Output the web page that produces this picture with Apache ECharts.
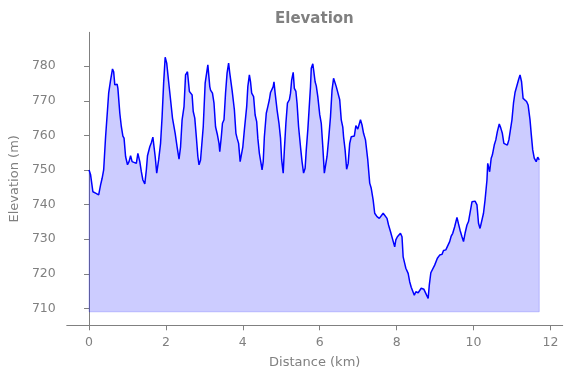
<!DOCTYPE html>
<html>
<head>
<meta charset="utf-8">
<script src="https://cdn.jsdelivr.net/npm/echarts@6/dist/echarts.min.js"></script>
<style>
html, body { margin: 0; padding: 0; background: #fff; }
#chart { width: 571px; height: 378px; }
</style>
</head>
<body>
<div id="chart"></div>
<script>
// distance along the route (km) and elevation (m)
var distKm = [0.00, 0.04, 0.10, 0.17, 0.22, 0.25, 0.30, 0.34, 0.38, 0.43, 0.48, 0.51, 0.56, 0.61, 0.64, 0.67, 0.73, 0.75, 0.80, 0.84,
    0.88, 0.91, 0.95, 1.00, 1.04, 1.08, 1.12, 1.17, 1.23, 1.27, 1.32, 1.36, 1.40, 1.45, 1.49, 1.52, 1.55, 1.58, 1.62, 1.66,
    1.69, 1.72, 1.76, 1.81, 1.86, 1.90, 1.94, 1.98, 2.02, 2.04, 2.07, 2.12, 2.17, 2.20, 2.24, 2.29, 2.34, 2.38, 2.42, 2.47,
    2.51, 2.56, 2.58, 2.61, 2.64, 2.68, 2.71, 2.75, 2.79, 2.83, 2.86, 2.90, 2.97, 3.02, 3.09, 3.14, 3.16, 3.21, 3.25, 3.29,
    3.34, 3.38, 3.40, 3.44, 3.47, 3.51, 3.55, 3.59, 3.63, 3.66, 3.69, 3.72, 3.75, 3.78, 3.82, 3.85, 3.89, 3.93, 3.96, 4.00,
    4.04, 4.10, 4.13, 4.17, 4.20, 4.23, 4.28, 4.32, 4.36, 4.39, 4.43, 4.48, 4.50, 4.53, 4.56, 4.61, 4.65, 4.69, 4.72, 4.75,
    4.79, 4.81, 4.84, 4.89, 4.94, 4.98, 5.01, 5.05, 5.08, 5.12, 5.16, 5.21, 5.24, 5.27, 5.31, 5.34, 5.38, 5.41, 5.45, 5.50,
    5.54, 5.58, 5.62, 5.65, 5.69, 5.72, 5.76, 5.78, 5.82, 5.84, 5.88, 5.91, 5.95, 6.00, 6.04, 6.08, 6.12, 6.15, 6.19, 6.23,
    6.28, 6.32, 6.36, 6.40, 6.43, 6.47, 6.52, 6.56, 6.60, 6.62, 6.66, 6.70, 6.74, 6.78, 6.82, 6.87, 6.90, 6.94, 6.99, 7.02,
    7.06, 7.10, 7.14, 7.19, 7.21, 7.25, 7.30, 7.34, 7.39, 7.43, 7.49, 7.55, 7.59, 7.65, 7.70, 7.75, 7.79, 7.84, 7.90, 7.95,
    7.98, 8.02, 8.07, 8.10, 8.14, 8.17, 8.21, 8.24, 8.30, 8.34, 8.38, 8.42, 8.46, 8.50, 8.56, 8.59, 8.64, 8.68, 8.71, 8.76,
    8.82, 8.85, 8.89, 8.94, 8.99, 9.06, 9.12, 9.18, 9.22, 9.28, 9.32, 9.38, 9.42, 9.46, 9.51, 9.57, 9.61, 9.65, 9.70, 9.74,
    9.78, 9.83, 9.87, 9.91, 9.96, 10.00, 10.04, 10.09, 10.13, 10.17, 10.22, 10.26, 10.30, 10.35, 10.37, 10.40, 10.42, 10.46, 10.49, 10.54,
    10.58, 10.62, 10.67, 10.71, 10.75, 10.79, 10.83, 10.88, 10.92, 10.95, 11.00, 11.04, 11.08, 11.13, 11.17, 11.21, 11.25, 11.29, 11.34, 11.38,
    11.42, 11.47, 11.50, 11.54, 11.58, 11.63, 11.67, 11.71];
var elevM = [750.0, 748.6, 743.7, 743.3, 743.6, 742.8, 745.7, 747.6, 750.0, 759.6, 767.4, 772.2, 776.0, 779.2, 778.4, 774.6, 774.8, 773.6, 766.4, 762.5,
    759.8, 759.2, 753.9, 751.5, 752.4, 754.1, 752.4, 751.9, 751.9, 754.8, 752.4, 749.5, 747.1, 746.0, 750.0, 754.1, 753.9, 756.7, 757.9, 759.5,
    759.2, 753.9, 749.1, 752.9, 757.7, 765.4, 775.1, 782.6, 780.9, 781.3, 775.5, 770.3, 765.0, 764.5, 760.6, 756.7, 753.1, 756.7, 764.5, 768.3,
    777.5, 778.4, 778.4, 772.7, 773.1, 771.7, 766.9, 765.0, 759.6, 753.9, 751.5, 752.9, 762.5, 775.1, 780.4, 774.1, 773.1, 772.2, 769.3, 762.5,
    760.1, 757.7, 755.3, 759.6, 763.5, 764.5, 772.2, 778.0, 780.9, 778.0, 778.2, 773.1, 772.7, 767.4, 760.6, 759.2, 757.7, 752.4, 752.4, 756.7,
    761.6, 768.3, 774.1, 777.5, 775.5, 772.2, 771.2, 765.9, 764.0, 759.2, 754.8, 751.5, 750.0, 752.4, 759.6, 766.4, 768.3, 770.3, 772.4, 772.7,
    774.1, 775.5, 772.2, 767.4, 763.5, 759.2, 752.9, 749.1, 755.8, 763.5, 769.3, 770.3, 772.2, 776.0, 778.2, 773.6, 772.7, 769.3, 762.5, 756.7,
    752.4, 749.1, 750.5, 755.8, 761.6, 766.9, 774.1, 779.4, 780.7, 779.0, 775.5, 774.3, 771.2, 766.0, 763.5, 756.7, 749.1, 748.6, 753.9, 758.7,
    765.4, 773.1, 776.5, 776.8, 774.1, 774.0, 770.3, 764.5, 762.4, 759.6, 755.8, 750.2, 751.9, 757.7, 759.6, 760.1, 759.8, 762.8, 761.8, 762.2,
    764.5, 763.0, 760.6, 758.7, 758.8, 752.9, 746.2, 744.7, 741.3, 737.5, 736.5, 736.0, 735.8, 737.5, 737.5, 736.0, 734.1, 732.2, 729.8, 727.8,
    729.8, 730.7, 731.2, 731.7, 730.7, 724.9, 723.0, 721.6, 720.1, 717.7, 716.1, 716.0, 713.8, 714.8, 714.5, 714.8, 715.8, 715.3, 715.5, 715.1,
    712.9, 716.7, 720.3, 720.1, 722.5, 724.5, 725.4, 725.6, 726.7, 726.9, 727.2, 729.3, 730.9, 731.7, 733.6, 736.3, 734.4, 732.6, 730.7, 729.3,
    731.7, 734.1, 735.1, 735.0, 740.8, 741.3, 741.0, 739.9, 734.6, 733.1, 732.6, 737.5, 741.3, 747.1, 751.9, 752.4, 749.5, 753.4, 754.3, 757.2,
    758.7, 761.1, 763.3, 762.1, 760.6, 757.7, 758.2, 757.2, 758.7, 758.6, 764.5, 769.3, 772.4, 772.5, 776.0, 777.5, 775.5, 770.7, 770.6, 769.8,
    768.8, 764.5, 760.6, 755.8, 753.4, 752.4, 753.7, 752.9];
var fillBase = 709;
var xTicks = [0, 2, 4, 6, 8, 10, 12];
var yTicks = [710, 720, 730, 740, 750, 760, 770, 780];

var myChart = echarts.init(document.getElementById('chart'));

var profile = [];
distKm.forEach(function (d, i) {
    profile.push([d, elevM[i]]);
});
var last = distKm.length - 1;
// outline of the filled area (left side, bottom, right side)
var fillEdge = [
    [distKm[0], elevM[0]],
    [distKm[0], fillBase],
    [distKm[last], fillBase],
    [distKm[last], elevM[last]]
];

var grey = '#808080';
var font = 'DejaVu Sans';

var option = {
    animation: false,
    title: {
        text: 'Elevation',
        left: 270,
        top: 7,
        textStyle: {
            color: grey,
            fontWeight: 'bold',
            fontSize: 15,
            fontFamily: font
        }
    },
    grid: {
        left: 66.7,
        right: 8.3,
        top: 32.3,
        bottom: 52.7
    },
    xAxis: {
        type: 'value',
        min: -0.58,
        max: 12.32,
        name: 'Distance (km)',
        nameLocation: 'middle',
        nameGap: 31,
        nameTextStyle: { color: grey, fontSize: 13, fontFamily: font },
        splitLine: { show: false },
        axisLine: { lineStyle: { color: grey, width: 1 } },
        axisTick: { length: 5, lineStyle: { color: grey }, customValues: xTicks },
        axisLabel: { color: grey, fontSize: 12.5, fontFamily: font, margin: 11, customValues: xTicks }
    },
    yAxis: {
        type: 'value',
        min: 705.1,
        max: 789.8,
        name: 'Elevation (m)',
        nameLocation: 'middle',
        nameGap: 41,
        nameRotate: 90,
        nameTextStyle: { color: grey, fontSize: 13, fontFamily: font },
        splitLine: { show: false },
        axisLine: { show: true, lineStyle: { color: grey, width: 1 } },
        axisTick: { show: true, length: 5, lineStyle: { color: grey }, customValues: yTicks },
        axisLabel: { color: grey, fontSize: 12.5, fontFamily: font, margin: 11, customValues: yTicks }
    },
    series: [
        {
            type: 'line',
            data: fillEdge,
            symbol: 'none',
            silent: true,
            lineStyle: { color: 'rgba(0,0,255,0.2)', width: 1 },
            z: 3
        },
        {
            type: 'line',
            data: profile,
            symbol: 'none',
            silent: true,
            lineStyle: { color: '#0000ff', width: 1.5 },
            areaStyle: { color: 'rgba(0,0,255,0.2)', origin: fillBase, opacity: 1 },
            z: 2
        }
    ]
};

myChart.setOption(option);
</script>
</body>
</html>
